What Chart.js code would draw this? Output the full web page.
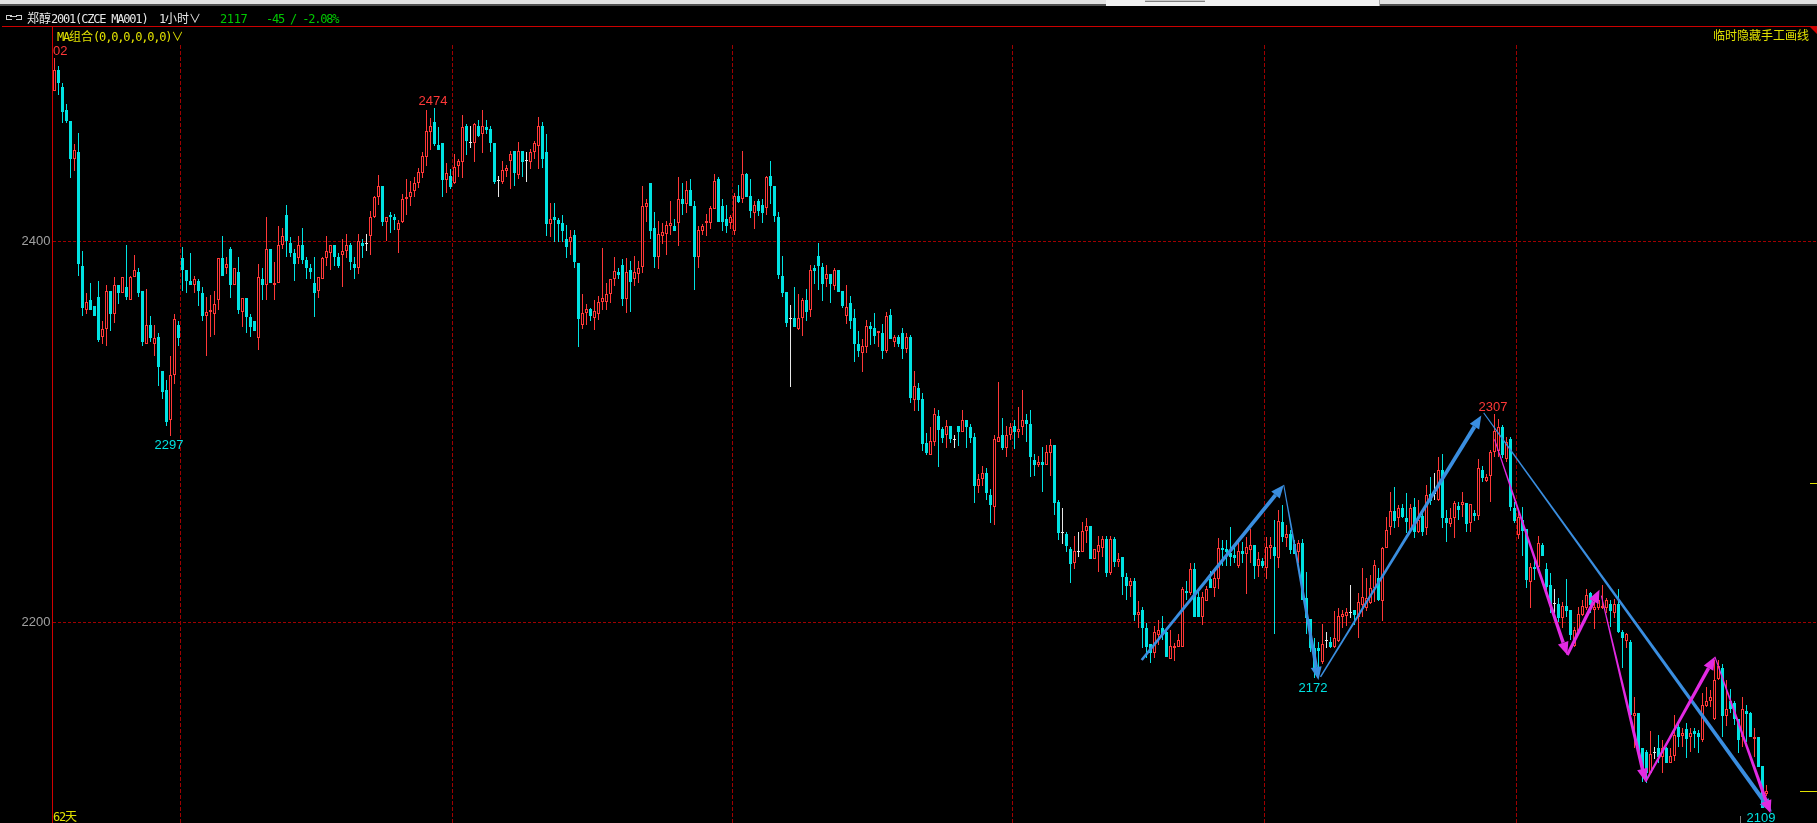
<!DOCTYPE html>
<html><head><meta charset="utf-8">
<script src="https://cdn.jsdelivr.net/npm/chart.js@4.4.1/dist/chart.umd.min.js"></script>
<style>
html,body{margin:0;padding:0;background:#000;}
#wrap{position:relative;width:1817px;height:823px;overflow:hidden;background:#000;}
canvas{position:absolute;left:0;top:0;}
.o{position:absolute;white-space:nowrap;line-height:12px;height:12px;}
.cjk{font-family:"Noto Sans CJK SC";font-size:12px;}
.lat{font-family:"DejaVu Sans Mono";font-size:12px;letter-spacing:-1.2px;}
.abs{position:absolute;}
</style></head>
<body><div id="wrap">
<canvas id="c" width="1817" height="823"></canvas>
<div class="abs" style="left:0;top:0;width:1817px;height:4px;background:#e1e1e1"></div>
<div class="abs" style="left:0;top:4px;width:1817px;height:2px;background:#505050"></div>
<div class="abs" style="left:1106px;top:0;width:273px;height:6px;background:#f0f0f0;border-right:1px solid #a8a8a8"></div>
<div class="abs" style="left:1145px;top:0;width:60px;height:1px;background:#c8c8c8;border-bottom:1px solid #808080"></div>
<div class="abs" style="left:2px;top:26px;width:1815px;height:1px;background:#cc0000"></div>
<div class="abs" style="left:52px;top:26px;width:1px;height:797px;background:#d00000"></div>
<div class="abs" style="left:1810px;top:27px;width:0;height:0;border-top:7px solid #d00000;border-left:7px solid transparent"></div>
<div class="abs" style="left:1740px;top:816px;width:1px;height:7px;background:#808080"></div>
<div class="abs" style="left:6px;top:15px;width:5px;height:3px;border:1px solid #d0d0d0;border-right:none"></div>
<div class="abs" style="left:16px;top:15px;width:5px;height:3px;border:1px solid #d0d0d0;border-left:none"></div>
<div class="abs" style="left:10px;top:16px;width:7px;height:1px;background:#d0d0d0"></div>
<div class="o" style="left:27px;top:12px;color:#e8e8e8"><span class="cjk">郑醇</span><span class="lat">2001(CZCE MA001)</span></div>
<div class="o" style="left:159px;top:12px;color:#e8e8e8"><span class="lat">1</span><span class="cjk">小时∨</span></div>
<div class="o" style="left:220px;top:12px;color:#00c800"><span class="lat" style="letter-spacing:-0.4px">2117</span></div>
<div class="o" style="left:266px;top:12px;color:#00c800"><span class="lat">-45 / -2.08%</span></div>
<div class="o" style="left:57px;top:29.5px;color:#e0e000"><span class="lat">MA</span><span class="cjk">组合</span><span class="lat">(0,0,0,0,0,0)</span><span class="cjk">∨</span></div>
<div class="o" style="left:1713px;top:29px;color:#e0e000"><span class="cjk">临时隐藏手工画线</span></div>
<div class="o" style="left:53px;top:810px;color:#e0e000"><span class="lat">62</span><span class="cjk">天</span></div>
</div>
<script>
const opens = [
2479,2490,2481,2469,2463,2443,2447,2387,2364,2369,
2366,2371,2350,2354,2374,2362,2377,2373,2376,2369,
2381,2384,2374,2346,2356,2346,2350,2332,2322,2306,
2330,2356,2391,2385,2379,2377,2379,2373,2361,2363,
2362,2369,2391,2386,2396,2377,2384,2363,2370,2360,
2358,2349,2380,2377,2396,2377,2378,2398,2414,2399,
2394,2391,2398,2390,2386,2378,2374,2380,2391,2394,
2398,2392,2393,2395,2398,2388,2386,2399.3,2399,2403,
2413,2423,2429,2410,2414,2413,2406,2410,2422,2423,
2426.6,2430.5,2436,2444.5,2457.6,2462.7,2450.4,2451.6,2432,2434.3,
2430.5,2439.7,2441.8,2460.5,2451.8,2451.8,2460.5,2456.3,2460.2,2459,
2451.5,2431.7,2431.3,2436.9,2442.2,2447.4,2434.8,2447.4,2442.2,2441.8,
2446.7,2450.2,2460.5,2447.1,2409.1,2413,2411.2,2409.8,2401.2,2399.8,
2403.3,2388.8,2356.1,2362.2,2364.3,2359.6,2361.9,2368,2368,2372.2,
2380,2384.1,2387.6,2369.7,2384.9,2380,2382.8,2386.3,2418.2,2430.4,
2406.8,2391.9,2402.9,2403.6,2408,2408,2409.4,2422,2419.5,2426.9,
2418.5,2391.9,2405.6,2409.4,2409.4,2417.1,2432.5,2418.5,2411.5,2409.4,
2405.6,2423.7,2422,2435.1,2423.7,2415,2421.1,2419,2417.3,2434.3,
2429,2412.6,2381.8,2373.2,2359.5,2359.5,2353.9,2359.5,2369.1,2363.9,
2386.1,2392.2,2386.6,2380,2382.8,2376.7,2384.9,2373.9,2360.9,2367.4,
2359.5,2345.9,2341.5,2344.7,2355.5,2354.3,2351.6,2351.6,2342.6,2361.3,
2347.3,2349.9,2351.6,2343.4,2349.9,2316.7,2323.1,2317.2,2293.9,2287.8,
2294.8,2308.3,2301.5,2298.2,2303.1,2296.1,2303.1,2300.1,2306.2,2302.7,
2297.1,2271.6,2275.1,2278.2,2266.8,2260.7,2294.8,2298.3,2291.7,2298.2,
2303.1,2300.1,2302.4,2306.2,2304.1,2285.2,2282.6,2284.3,2282.6,2289,
2293.1,2263.2,2247.1,2246.4,2238.5,2231,2237.1,2237.1,2248.1,2250.6,
2233.1,2237.1,2239.2,2243.6,2225.7,2243.6,2231.8,2234.1,2223.6,2219.2,
2221.7,2203.8,2206.5,2197.2,2188.4,2184.1,2193.3,2196.8,2194.7,2180.7,
2186.3,2187.2,2187.2,2216.4,2215.2,2228,2213.5,2203,2211.3,2222.7,
2218.2,2222.5,2239.2,2238.5,2236.2,2235.3,2229.7,2237.4,2235.7,2237.9,
2240.5,2229.7,2232.3,2228.7,2239.2,2239.7,2233.9,2252.8,2244.4,2246.2,
2240.9,2237.1,2241.8,2212.6,2201.5,2186.3,2186.3,2179.3,2190.3,2189.8,
2187.2,2190.1,2202.9,2203.5,2205.2,2206.4,2202.9,2209.1,2207.3,2209.9,
2217.8,2223.4,2211.2,2238.8,2250.2,2258.4,2254.6,2259.8,2254.9,2248.4,
2260.7,2247.6,2256,2249.6,2267.1,2267.7,2264.2,2279.9,2254.9,2251.4,
2254.6,2261.1,2261.6,2262.4,2251.9,2257.2,2255.8,2279.9,2274.2,2277,
2289.2,2289.9,2302.7,2285.6,2296.1,2260.2,2245.8,2253.7,2248.8,2221.3,
2229.2,2229.2,2240.6,2227.8,2219.6,2209.6,2209.6,2202.1,2208.5,2206.4,
2187.5,2195.6,2203.8,2207.3,2215.5,2206.4,2207.3,2207.3,2207.3,2209.6,
2204.7,2209.6,2194.7,2190.3,2189.5,2151,2152.2,2133.8,2132,2121.1,
2131.5,2133.8,2129.4,2133.8,2126.3,2129.8,2144.9,2140.3,2143.8,2139.6,
2143.1,2142.1,2138.2,2156.1,2158.4,2149,2170.1,2175.8,2150.8,2158.4,
2157.5,2149,2139.6,2153.6,2152.5,2138.6,2139.6,2124.5,2109.9
];
const highs = [
2496,2492,2483,2472,2463,2451,2457,2395,2373,2378,
2366,2379,2358,2377,2374,2381,2377,2381,2398,2382,
2393,2386,2374,2375,2361,2356,2352,2332,2327,2340,
2362,2358,2397,2385,2394,2382,2380,2376,2371,2372,
2374,2391,2403,2392,2397,2386,2392,2370,2370,2362,
2358,2388,2386,2413,2396,2389,2408,2407,2419,2402,
2396,2403,2407,2392,2388,2392,2381,2392,2403,2398,
2398,2394,2401,2404,2399,2392,2404,2401,2404,2416,
2424,2435,2429,2413,2415.4,2414.4,2411,2425,2432.5,2431.5,
2434,2438.3,2447,2469,2464.9,2469.8,2460,2451.6,2441,2438,
2445.9,2443.2,2466.3,2461.6,2460.5,2462.3,2463.7,2469,2463.7,2460.5,
2451.5,2434.3,2442.2,2440,2447.4,2447.4,2452.2,2447.4,2447.1,2448.5,
2452.7,2465.1,2462.8,2456.3,2420.3,2420.3,2412,2413.8,2408.6,2406,
2406,2388.8,2372.4,2367.1,2364.8,2369.2,2371.3,2396.3,2378,2380,
2391.6,2385.8,2390.6,2391,2389.6,2392.2,2389.6,2429,2422,2430.4,
2415.2,2410.6,2409.8,2410.6,2421.1,2411.5,2433.9,2430.7,2431.6,2432.5,
2421.1,2408,2408.9,2414.3,2418.5,2435.1,2433.9,2422,2419,2413.8,
2425.2,2429.5,2447.4,2435.7,2432.5,2421.1,2422.2,2422.2,2434.3,2442.1,
2429,2415.5,2392.2,2373.2,2366.5,2375.8,2372.3,2370,2374.9,2387.5,
2387.5,2398.9,2388.4,2387.5,2382.8,2385.8,2384.9,2373.9,2377,2371.2,
2364.4,2352.9,2348.7,2358.6,2357.4,2362.2,2352.9,2356.5,2363,2364.4,
2350.8,2350.8,2354.3,2351.6,2350.8,2332.1,2325.4,2320.5,2299.6,2302.7,
2312.7,2311.5,2302.7,2306.2,2303.1,2298.3,2303.1,2311.5,2306.2,2303.9,
2299.2,2277.7,2282.1,2280.8,2269.8,2298.3,2326.3,2307.4,2303.1,2304.8,
2306.2,2313.2,2322,2309.2,2311.5,2288.4,2287.3,2291.8,2293.1,2296.2,
2293.1,2264.2,2259.8,2247.2,2239.7,2245.3,2247.6,2252.5,2254.9,2250.6,
2238.3,2245.3,2245.3,2245.3,2245.3,2244.9,2236.2,2234.1,2225.7,2223.1,
2223.1,2211.3,2208.2,2199.8,2188.4,2198.1,2201.2,2203.3,2196.8,2195.9,
2189,2193.9,2218.7,2221.7,2231.3,2231.3,2216.1,2215.7,2219.2,2226.9,
2226.2,2244.4,2243.2,2243.2,2250.2,2239.7,2242.3,2242.3,2244.9,2248.8,
2240.5,2237.1,2233.5,2244.6,2244.9,2253.7,2258.9,2261.6,2251.1,2248.4,
2243.2,2243.2,2243.5,2226.6,2201.5,2191.5,2189.8,2198.9,2194.7,2192.4,
2205.9,2207.3,2206.4,2207.3,2219.5,2206.4,2215.2,2228.3,2223,2224.8,
2232.7,2228.3,2239.7,2255.4,2268.6,2271.2,2261.6,2261.9,2267.7,2261.9,
2265.4,2264.2,2258.1,2272.1,2276.4,2278.2,2286.9,2288.2,2258.9,2259.8,
2263.6,2263,2268.6,2262.4,2261.9,2258.9,2285.5,2282.2,2277.7,2290.4,
2309.2,2306.7,2303.6,2297,2297.1,2263.3,2259,2260.7,2248.8,2230.9,
2233.6,2245.3,2241.5,2230.9,2225.7,2217.3,2212.6,2210.8,2222.6,2206.4,
2197.7,2208.2,2211.7,2217.3,2216.1,2211.7,2213.5,2219.6,2212.6,2211.7,
2212,2217.3,2196,2194.2,2190.7,2160.9,2152.2,2133.8,2133,2142.9,
2134.7,2140.8,2138.2,2134.7,2133.8,2151.3,2147,2144.3,2147,2144.3,
2144.3,2143.5,2162.7,2165.9,2164.5,2180.2,2180.2,2178.1,2169.7,2164.8,
2158.4,2149,2160.6,2156.6,2153.1,2144.3,2139.6,2124.5,2114.6
];
const lows = [
2479,2477,2462,2462,2433,2437,2382,2361,2362,2364,
2361,2347,2346,2345,2353,2357,2367,2373,2369,2369,
2381,2371,2345,2346,2347,2340,2324,2317,2303,2298,
2325,2345,2374,2373,2377,2373,2366,2358,2340,2350,
2351,2364,2382,2383,2370,2377,2362,2355,2352,2350,
2353,2343,2369,2369,2378,2369,2378,2396,2392,2392,
2379,2388,2388,2380,2380,2360,2370,2380,2387,2385,
2387,2386,2376,2391,2385,2380,2383,2391,2395,2393,
2412,2419,2408,2400,2404.5,2406,2394,2409.5,2414,2418.5,
2423,2427.8,2433.4,2439.6,2448,2450,2448,2423,2425.5,2427.5,
2430,2434,2433.4,2445.3,2448.8,2441.8,2455,2446.6,2456.3,2447.1,
2430.1,2423,2430.1,2434,2427.5,2429,2432.6,2433.6,2431.3,2437.8,
2443.2,2438,2438.3,2403,2402.5,2399.8,2399.8,2399.8,2391.4,2392.8,
2386.2,2344.7,2353.8,2356.1,2358.4,2353.5,2358.7,2363.9,2364,2367.8,
2376.7,2380,2366.2,2362.2,2363,2376.7,2377.9,2383.5,2410.3,2401,
2386.1,2385.4,2398.5,2392.8,2403.3,2405.6,2397.7,2413.8,2415,2418.5,
2374.4,2386.1,2403.3,2402.8,2406.4,2417.1,2410.3,2405.6,2404.5,2406.4,
2403.3,2419.9,2419.9,2423.4,2412,2406.4,2413.2,2409.4,2413.8,2419.5,
2410.3,2380.2,2370.9,2355.2,2323.6,2355.2,2353.4,2350.4,2358.3,2360.4,
2377.6,2374.4,2368.8,2375.8,2367.8,2374.4,2373.5,2365.1,2356.4,2353.9,
2336.8,2339.4,2331.5,2341.5,2345.5,2346.1,2344.7,2338.2,2341.5,2348.5,
2344.7,2344.7,2338.2,2341.5,2314.9,2311.1,2311.1,2290.1,2287.8,2287.8,
2292.5,2281.7,2293.9,2291.7,2293.9,2291.7,2292.5,2300.1,2291.7,2293.9,
2262.8,2267.7,2271.6,2264.2,2252.3,2251.1,2294.8,2290.4,2287,2295.7,
2290.8,2296.9,2298.3,2294.8,2276.1,2277,2281.7,2268.6,2282.6,2277,
2256.3,2243.2,2241.1,2237.1,2220.5,2227.8,2234.1,2237.1,2241.5,2233.1,
2233.1,2226.6,2234.5,2223.6,2224.8,2229.2,2229.2,2214.3,2211.7,2213.1,
2200.9,2196.8,2186.3,2181.1,2178.8,2181.1,2188.1,2190.7,2181.9,2180.7,
2179.7,2187.2,2187.2,2211.7,2214.3,2203,2203,2198.6,2211.3,2217.8,
2213.4,2217.3,2229.7,2229.5,2229.5,2230.9,2228.3,2230.9,2214.8,2230.9,
2222.5,2223.9,2228.3,2222.5,2233,2193.7,2228.3,2242.3,2239.7,2235.7,
2235.7,2230.9,2211.7,2193.7,2184.5,2170.6,2172.3,2177.9,2186.3,2186.3,
2186.3,2189.8,2196.8,2198.2,2202.1,2198.6,2191.5,2202.9,2205.9,2209.4,
2210.8,2211.2,2200.7,2238.8,2245.8,2249.3,2250.2,2254.6,2246.7,2247.6,
2244.4,2247,2245.4,2245.8,2261.6,2264.2,2263.6,2249.6,2242.3,2250.2,
2244.4,2253.7,2255.4,2247.6,2247.2,2253.2,2253.7,2273.8,2273.8,2263.3,
2286.9,2286.9,2286.4,2284,2258.6,2252,2243.6,2234.8,2217.8,2207.3,
2222.2,2225.7,2234.8,2216.1,2205.1,2204.7,2200.3,2196.8,2203,2190.7,
2187.2,2193.3,2203.3,2206.4,2204.7,2196.3,2206.4,2206.8,2204.7,2197.7,
2202.1,2194.2,2175.8,2186.3,2151.3,2133.8,2131.2,2116.3,2115.8,2120.7,
2128.1,2126,2121.1,2126,2126,2127.4,2134.7,2134.7,2128.6,2132,
2133.8,2131.5,2137.3,2155.4,2155.7,2148.7,2169.7,2139.6,2145.6,2152.5,
2146.1,2131.5,2134.7,2137.3,2139.6,2129.4,2124.2,2102.3,2108.8
];
const closes = [
2490,2483,2468,2463,2443,2448,2388,2365,2368,2364,
2361,2348,2354,2374,2362,2377,2373,2381,2371,2381,
2385,2373,2347,2356,2349,2349,2334,2321,2305,2330,
2359,2349,2385,2379,2377,2380,2374,2361,2363,2364,
2367,2391,2382,2388,2377,2386,2364,2370,2360,2355,
2353,2381,2377,2396,2378,2378,2398,2403,2400,2394,
2388,2398,2390,2386,2384,2373,2381,2391,2395,2398,
2392,2387,2395,2398,2389,2386,2400,2397.6,2399,2413,
2423,2429,2410,2413,2413,2411,2409.5,2422,2423,2426,
2430.5,2436.4,2444.8,2458,2460.5,2451.1,2448,2432.2,2436,2428.7,
2438.9,2442.3,2459.9,2452.7,2451.8,2461.4,2455.5,2460.5,2458.5,2451.8,
2431.3,2431.7,2437.5,2438.3,2445.9,2436,2447.4,2441.8,2442.2,2447.1,
2451.8,2460.5,2443.2,2409.1,2411.7,2411.2,2409.1,2405.6,2397.2,2402.1,
2389.3,2359.2,2362.2,2364.3,2360.8,2363.4,2368,2370.1,2372.2,2380,
2384.6,2382.3,2369.7,2383.7,2378.8,2383.7,2385.8,2418.5,2419.9,2405.6,
2391.9,2403.6,2404.7,2408.5,2409.4,2405.6,2422,2419.5,2426.9,2418.5,
2391.9,2405.9,2408,2410.6,2417.3,2431.6,2410.3,2410.3,2408.2,2412.6,
2423.7,2420.8,2435.1,2423.4,2415.9,2419,2415.9,2415,2433.6,2429,
2413.2,2382.3,2373,2357.2,2359.5,2355.2,2359.5,2369.1,2363,2384.9,
2384.5,2387,2377.6,2382.8,2377.6,2384.9,2373.5,2366.2,2365.3,2358.3,
2345.9,2342.4,2345,2355.5,2353.9,2350.4,2352.9,2342.6,2360.9,2348.5,
2349.9,2346.1,2343.4,2349.9,2317.9,2324,2316.7,2293.8,2288.7,2295.2,
2309.4,2301,2296.9,2303.1,2296.1,2296.1,2300.1,2306.2,2302.7,2296.9,
2271.6,2275.1,2278.2,2267.7,2261.6,2296.1,2297.1,2291.7,2298.3,2302.4,
2300.1,2301.5,2306.2,2303.9,2287,2282.6,2284.3,2282.6,2289.2,2293.1,
2262.8,2247.1,2247.1,2240.2,2230.6,2237.4,2237.1,2248.1,2250.6,2233.1,
2238.3,2240.6,2243.6,2225.7,2243.6,2231.8,2233.1,2223.6,2219.2,2221.7,
2203.8,2205.2,2196.8,2187.2,2184.1,2194.7,2195.9,2193.3,2181.9,2187.5,
2187.5,2190.7,2217.3,2215.2,2228,2203,2203,2213.1,2217.3,2217.8,
2223.4,2239.2,2237.9,2237.1,2234.4,2233.9,2237.4,2235.7,2239.7,2240.5,
2229.7,2233,2229.7,2239.3,2240.5,2234.8,2253.3,2244.9,2246.2,2237.9,
2235.7,2241.8,2211.7,2202.1,2186.3,2175.8,2184.9,2188.4,2190.3,2187.2,
2191.5,2203.5,2204.3,2205.6,2205.2,2203.8,2210.8,2213.4,2212.6,2218.1,
2230.1,2211.7,2238.8,2248.4,2258.4,2253.2,2259.8,2255.4,2252.5,2260.2,
2247.6,2253.7,2247.6,2266.8,2263.6,2267.7,2279.9,2254.6,2252.3,2254.6,
2262.4,2258.9,2263,2251.4,2261.9,2255.8,2280.8,2275.9,2276.4,2289.2,
2300.4,2302.7,2287.8,2294.8,2260.7,2253.3,2255.1,2247.9,2222.2,2229.2,
2227.8,2241.5,2234.8,2218.7,2208.5,2209.6,2202.1,2208.5,2206.1,2193.3,
2196,2204.4,2208.5,2214.3,2209.1,2207.9,2211.7,2208.5,2211.7,2206.1,
2209.6,2195.1,2191.6,2193.9,2151.3,2152.2,2132,2121.1,2121.1,2130.7,
2131.5,2129.4,2133.8,2126.3,2129.8,2140.8,2139.6,2142.1,2138.6,2142.1,
2141.4,2139.6,2156.6,2158.4,2161,2169.7,2177.1,2150.8,2154.3,2154.3,
2149,2138.2,2154.3,2151.9,2139.6,2139.6,2124.2,2102.3,2111.6
];
// y-axis tick labels and vertical session-break grid lines (category index)
const yTicks = [2200, 2400];
const dayBreaks = [32, 100, 170, 240, 303, 366];
// high/low marks: [candle index, price, text, kind]
const markLabels = [
  [0, 2496, '2502', 'high'],
  [95, 2469.8, '2474', 'high'],
  [29, 2298, '2297', 'low'],
  [315, 2170.6, '2172', 'low'],
  [360, 2309.2, '2307', 'high'],
  [427, 2102.3, '2109', 'low']
];
// hand-drawn arrows: [index1, price1, index2, price2]
const blueArrows = [
  [271.8, 2180.2, 307.3, 2272.1],
  [307.3, 2272.1, 316, 2169.7],
  [316.5, 2171.3, 356.7, 2308.5],
  [357.3, 2309.9, 429.3, 2100.5]
];
const magentaArrows = [
  [360, 2296, 378.2, 2182.8],
  [378.2, 2182.8, 386.25, 2217],
  [386.7, 2214, 397.75, 2116.3],
  [397.75, 2116.3, 415.1, 2181.9],
  [415.1, 2181.9, 429, 2099.7]
];
const rightMarks = [2273, 2111.4];

const N = opens.length;
const categories = Array.from({length: N + 12}, (_, i) => i < N ? String(i) : '');
const UP = '#ff3838', DOWN = '#00e2e2', DOJI = '#e8e8e8', GRID = '#9e0000';
const dir = opens.map((o, i) => closes[i] > o ? 1 : (closes[i] < o ? -1 : 0));
const col = dir.map(d => d > 0 ? UP : d < 0 ? DOWN : DOJI);
const wickData = lows.map((l, i) => [l, highs[i]]);
const bodyData = opens.map((o, i) => dir[i] === 0 ? [o - 0.27, o + 0.27] : [o, closes[i]]);

function drawArrow(ctx, x1, y1, x2, y2, w0, w1, color) {
  const dx = x2 - x1, dy = y2 - y1, len = Math.hypot(dx, dy);
  const ux = dx / len, uy = dy / len, nx = -uy, ny = ux;
  const hl = 13, hw = 5.5;
  const bx = x2 - ux * hl, by = y2 - uy * hl;
  ctx.fillStyle = color;
  ctx.beginPath();
  ctx.moveTo(x1 + nx * w0 / 2, y1 + ny * w0 / 2);
  ctx.lineTo(bx + nx * w1 / 2, by + ny * w1 / 2);
  ctx.lineTo(bx - nx * w1 / 2, by - ny * w1 / 2);
  ctx.lineTo(x1 - nx * w0 / 2, y1 - ny * w0 / 2);
  ctx.closePath(); ctx.fill();
  ctx.beginPath();
  ctx.moveTo(x2, y2);
  ctx.lineTo(bx + nx * hw, by + ny * hw);
  ctx.lineTo(bx - nx * hw, by - ny * hw);
  ctx.closePath(); ctx.fill();
}

const overlay = {
  id: 'overlay',
  beforeDatasetsDraw(chart) {
    const {ctx, chartArea: a} = chart;
    ctx.save(); ctx.fillStyle = '#000';
    ctx.fillRect(a.left + 1, a.top, a.right - a.left, 16);
    ctx.restore();
    // snap candle bars to whole pixels for crisp edges
    chart.data.datasets.forEach((ds, di) => {
      chart.getDatasetMeta(di).data.forEach(el => {
        let t = Math.round(Math.min(el.y, el.base)), b = Math.round(Math.max(el.y, el.base));
        if (b - t < 1) b = t + 1;
        el.y = t; el.base = b;
      });
    });
  },
  afterDatasetsDraw(chart) {
    const {ctx, chartArea: a, scales: {x, y}} = chart;
    ctx.save();
    ctx.beginPath(); ctx.rect(a.left + 0.5, a.top, a.right - a.left, a.bottom - a.top); ctx.clip();
    const bw = [[2.6,3.8],[1,3.6],[1.5,4],[1,4]];
    blueArrows.forEach((r, k) => drawArrow(ctx, x.getPixelForValue(r[0]), y.getPixelForValue(r[1]),
      x.getPixelForValue(r[2]), y.getPixelForValue(r[3]), bw[k][0], bw[k][1], '#3a8ee0'));
    const mw = [[1,3.5],[3,3.5],[1,3.5],[2,3.5],[1,3.5]];
    magentaArrows.forEach((r, k) => drawArrow(ctx, x.getPixelForValue(r[0]), y.getPixelForValue(r[1]),
      x.getPixelForValue(r[2]), y.getPixelForValue(r[3]), mw[k][0], mw[k][1], '#e22ae2'));
    ctx.font = '13px "Liberation Sans"';
    ctx.textAlign = 'center'; ctx.textBaseline = 'alphabetic';
    markLabels.forEach(m => {
      const px = x.getPixelForValue(m[0]) - 1.5, py = y.getPixelForValue(m[1]);
      ctx.fillStyle = m[3] === 'high' ? UP : DOWN;
      ctx.fillText(m[2], px, m[3] === 'high' ? py - 3.3 : py + 13.7);
    });
    ctx.restore();
    ctx.save();
    ctx.fillStyle = '#e0e000';
    const lens = [7, 17];
    rightMarks.forEach((p, k) => {
      const py = Math.round(y.getPixelForValue(p));
      ctx.fillRect(1817 - lens[k], py, lens[k], 1);
    });
    ctx.restore();
  }
};

new Chart(document.getElementById('c'), {
  type: 'bar',
  data: {
    labels: categories,
    datasets: [
      { data: wickData, backgroundColor: col, borderWidth: 0, barThickness: 1,
        grouped: false, order: 2, inflateAmount: 0 },
      { data: bodyData, backgroundColor: dir.map((d, i) => d > 0 ? '#000000' : col[i]),
        borderColor: col, borderWidth: dir.map(d => d > 0 ? 1 : 0), borderSkipped: false,
        barThickness: 3, grouped: false, order: 1, inflateAmount: 0 }
    ]
  },
  options: {
    responsive: false, animation: false, devicePixelRatio: 1, events: [],
    layout: { padding: { top: 27, right: 0.5, bottom: 0, left: 0 }, autoPadding: false },
    plugins: { legend: { display: false }, tooltip: { enabled: false } },
    scales: {
      x: {
        type: 'category', offset: true,
        ticks: { display: false, autoSkip: false },
        grid: { offset: true, drawTicks: false, lineWidth: 1,
          color: c => dayBreaks.includes(c.index) ? GRID : 'rgba(0,0,0,0)' },
        border: { display: false, dash: [4, 2] },
        afterFit: s => { s.height = 0; s.paddingLeft = 0; s.paddingRight = 0; }
      },
      y: {
        type: 'linear', position: 'left', min: 2094.6, max: 2512.5,
        afterBuildTicks: s => { s.ticks = yTicks.map(v => ({ value: v })); },
        ticks: { color: '#a0a0a0', font: { family: 'Liberation Sans', size: 13 }, padding: 2,
          callback: v => String(v) },
        grid: { drawTicks: false, color: GRID, lineWidth: 1 },
        border: { display: false, dash: [3, 2] },
        afterFit: s => { s.width = 52.5; s.paddingTop = 0; s.paddingBottom = 0; }
      }
    }
  },
  plugins: [overlay]
});
</script>
</body></html>
